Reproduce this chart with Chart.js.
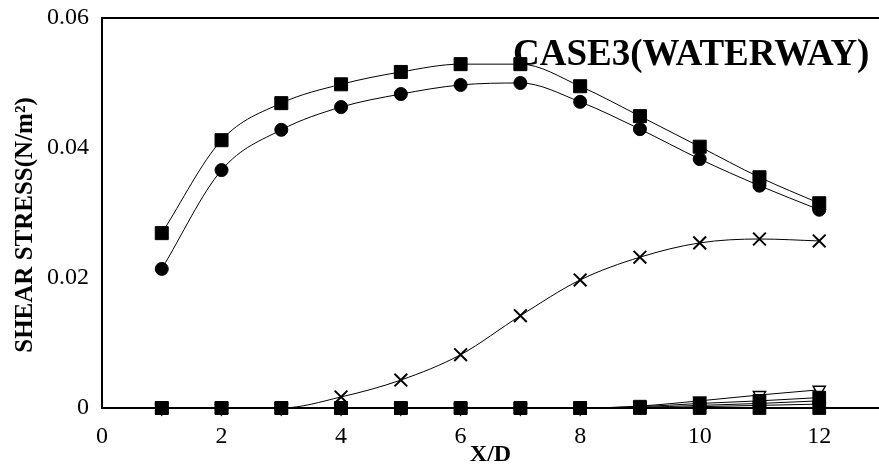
<!DOCTYPE html>
<html>
<head>
<meta charset="utf-8">
<script src="https://cdn.jsdelivr.net/npm/chart.js@4.4.1/dist/chart.umd.min.js"></script>
<style>
  html, body { margin: 0; padding: 0; background: #fff; overflow: hidden; }
  body { width: 879px; height: 475px; }
  #wrap { position: relative; width: 890px; height: 475px; }
</style>
</head>
<body>
<div id="wrap"><canvas id="c"></canvas></div>
<script>
// Streamwise positions X/D
const xd = [1, 2, 3, 4, 5, 6, 7, 8, 9, 10, 11, 12];

// Shear stress (N/m^2) along the waterway
const seriesSquare = [0.0269, 0.0412, 0.0469, 0.0498, 0.0517, 0.0529, 0.0529, 0.0495, 0.0449, 0.0402, 0.0355, 0.0315];
const seriesCircle = [0.0214, 0.0366, 0.0428, 0.0463, 0.0483, 0.0497, 0.0500, 0.0471, 0.0429, 0.0383, 0.0342, 0.0305];
const seriesCross  = [0, 0, 0, 0.0017, 0.0043, 0.0082, 0.0142, 0.0197, 0.0232, 0.0254, 0.0260, 0.0257];
const seriesTri    = [0, 0, 0, 0, 0, 0, 0, 0, 0.0003, 0.0011, 0.0020, 0.0028];
const seriesLow1   = [0, 0, 0, 0, 0, 0, 0, 0, 0.0002, 0.0007, 0.0011, 0.0016];
const seriesLow2   = [0, 0, 0, 0, 0, 0, 0, 0, 0.0001, 0.0004, 0.0007, 0.0011];
const seriesLow3   = [0, 0, 0, 0, 0, 0, 0, 0, 0, 0.0002, 0.0004, 0.0006];
const seriesZero   = [0, 0, 0, 0, 0, 0, 0, 0, 0, 0, 0, 0];

const xTicks = [0, 2, 4, 6, 8, 10, 12];
const yTicks = [0, 0.02, 0.04, 0.06];

const chartTitle = 'CASE3(WATERWAY)';
const xTitle = 'X/D';
const yTitle = 'SHEAR STRESS(N/m\u00B2)';

const SERIF = '"Liberation Serif", "Times New Roman", serif';

const pts = arr => arr.map((v, i) => ({ x: xd[i], y: v }));

function series(data, style, radius, filled, extra) {
  return Object.assign({
    data: pts(data),
    borderColor: '#000',
    borderWidth: 1,
    pointStyle: style,
    pointRadius: radius,
    pointHoverRadius: radius,
    pointBackgroundColor: filled ? '#000' : '#fff',
    pointBorderColor: '#000',
    pointBorderWidth: filled ? 1 : 1.5,
    cubicInterpolationMode: 'monotone',
    fill: false,
    clip: false
  }, extra || {});
}

const datasets = [
  series(seriesLow3, 'circle', 6, true),
  series(seriesLow2, 'circle', 6, true),
  series(seriesLow1, 'rect', 9, true),
  series(seriesTri, 'triangle', 7, false, { pointRotation: 180 }),
  series(seriesZero, 'rect', 9, true),
  series(seriesCross, 'crossRot', 9, false, { pointBorderWidth: 2 }),
  series(seriesCircle, 'circle', 6.5, true),
  series(seriesSquare, 'rect', 9.2, true)
];

// Top frame line, case label and the two axis titles
const framePlugin = {
  id: 'frame',
  afterDraw(chart) {
    const { ctx, chartArea } = chart;
    ctx.save();
    ctx.strokeStyle = '#000';
    ctx.lineWidth = 2;
    ctx.beginPath();
    ctx.moveTo(chartArea.left - 1, chartArea.top);
    ctx.lineTo(chart.width, chartArea.top);
    ctx.stroke();

    ctx.fillStyle = '#000';
    ctx.textBaseline = 'alphabetic';
    ctx.textAlign = 'left';
    ctx.font = 'bold 37px ' + SERIF;
    ctx.fillText(chartTitle, 513, 65);

    ctx.textAlign = 'center';
    ctx.font = 'bold 24px ' + SERIF;
    ctx.fillText(xTitle, (chartArea.left + chartArea.right) / 2, 461);

    ctx.translate(32, 225);
    ctx.rotate(-Math.PI / 2);
    ctx.font = 'bold 25px ' + SERIF;
    ctx.fillText(yTitle, 0, 0);
    ctx.restore();
  }
};

new Chart(document.getElementById('c'), {
  type: 'line',
  data: { datasets },
  options: {
    responsive: true,
    maintainAspectRatio: false,
    animation: false,
    layout: { padding: { top: 18, right: 2, left: 0, bottom: 0 } },
    plugins: { legend: { display: false }, tooltip: { enabled: false } },
    scales: {
      x: {
        type: 'linear',
        min: 0,
        max: 13,
        afterBuildTicks(axis) { axis.ticks = xTicks.map(v => ({ value: v })); },
        grid: { display: false, drawTicks: false },
        border: { display: true, color: '#000', width: 2 },
        ticks: {
          color: '#000',
          padding: 14,
          maxRotation: 0,
          font: { family: SERIF, size: 24 }
        },
        afterFit(axis) { axis.height = 67; axis.paddingLeft = 0; axis.paddingRight = 0; }
      },
      y: {
        min: 0,
        max: 0.06,
        afterBuildTicks(axis) { axis.ticks = yTicks.map(v => ({ value: v })); },
        grid: { display: false, drawTicks: false },
        border: { display: true, color: '#000', width: 2 },
        ticks: {
          color: '#000',
          padding: 13,
          callback: v => String(+v.toFixed(2)),
          font: { family: SERIF, size: 24 }
        },
        afterFit(axis) { axis.width = 102; axis.paddingTop = 0; axis.paddingBottom = 0; }
      }
    }
  },
  plugins: [framePlugin]
});
</script>
</body>
</html>
